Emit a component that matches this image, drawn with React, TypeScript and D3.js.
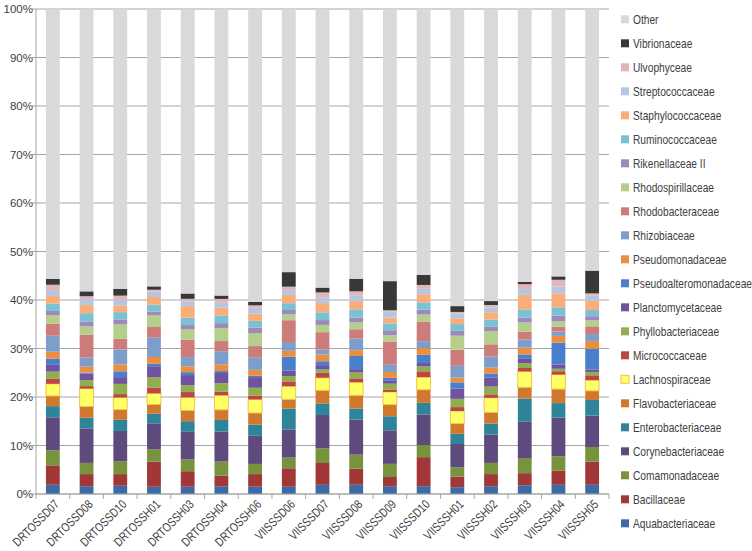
import React from "react";
import * as d3 from "d3";

const samples = ["DRTOSSD07","DRTOSSD08","DRTOSSD10","DRTOSSH01","DRTOSSH03","DRTOSSH04","DRTOSSH06","VIISSSD06","VIISSSD07","VIISSSD08","VIISSSD09","VIISSSD10","VIISSSH01","VIISSSH02","VIISSSH03","VIISSSH04","VIISSSH05"];

const Aquabacteriaceae = [1.9,1.6,1.7,1.5,1.5,1.6,1.5,1.5,1.9,1.9,1.6,1.6,1.4,1.6,1.8,1.9,1.9];
const Bacillaceae = [4.0,2.5,2.4,5.2,3.2,2.2,2.6,3.8,4.5,3.3,1.9,6.0,2.2,2.5,2.5,2.9,4.8];
const Comamonadaceae = [3.1,2.3,2.6,2.5,2.4,2.9,2.1,2.2,3.0,2.9,2.7,2.5,1.9,2.3,3.0,3.0,3.0];
const Corynebacteriaceae = [6.8,7.1,6.3,5.4,5.7,6.2,5.8,5.8,6.9,7.2,6.9,6.3,4.8,5.8,7.6,8.0,6.5];
const Enterobacteriaceae = [2.3,2.2,2.3,2.0,2.2,2.4,2.3,4.3,2.4,2.3,2.9,2.4,2.1,2.3,4.8,3.0,3.2];
const Flavobacteriaceae = [2.1,2.3,2.1,1.9,2.2,2.1,2.4,1.9,2.7,2.7,2.4,2.7,2.1,2.3,2.3,2.9,1.9];
const Lachnospiraceae = [2.5,3.7,2.5,2.3,2.7,3.0,2.8,2.7,2.6,2.7,2.6,2.6,2.6,3.0,3.3,3.0,2.2];
const Micrococcaceae = [1.1,0.5,0.7,1.2,1.1,0.7,0.8,1.0,1.0,0.8,0.5,1.2,0.8,0.7,0.7,0.7,1.0];
const Phyllobacteriaceae = [1.4,1.2,2.1,2.1,1.4,1.8,1.6,1.1,0.7,1.2,1.2,1.0,1.7,1.6,1.0,0.5,0.7];
const Planctomycetaceae = [1.4,1.4,1.4,2.3,2.1,2.1,2.2,1.1,0.9,0.7,0.7,0.7,2.1,1.9,1.0,0.9,0.5];
const Pseudoalteromonadaceae = [1.3,0.2,1.2,0.5,0.6,0.4,0.3,2.9,0.8,2.7,0.5,1.7,1.3,0.8,0.8,4.5,4.3];
const Pseudomonadaceae = [1.4,1.2,1.4,1.4,1.2,1.4,1.2,1.2,1.4,1.2,1.2,1.4,1.0,1.2,1.4,1.4,1.6];
const Rhizobiaceae = [3.3,1.9,3.1,4.0,1.9,2.7,2.5,1.8,1.0,2.4,1.5,1.4,2.4,2.3,1.7,0.9,1.4];
const Rhodobacteraceae = [2.5,4.7,2.2,2.2,3.6,2.1,2.4,4.5,3.6,1.9,4.7,4.0,3.3,2.5,1.6,1.0,1.6];
const Rhodospirillaceae = [1.7,1.7,3.0,2.4,2.1,2.7,2.7,1.2,1.5,1.4,1.4,1.5,2.9,2.7,1.9,1.1,1.3];
const RikenellaceaeII = [0.9,1.0,1.0,0.8,0.9,1.0,1.1,0.9,1.0,1.0,1.0,1.0,1.0,0.9,1.0,1.2,0.8];
const Ruminococcaceae = [1.5,1.7,1.5,1.4,1.5,1.6,1.4,1.4,1.6,1.7,1.4,1.5,1.4,1.5,1.7,1.7,1.3];
const Staphylococcaceae = [1.6,1.7,1.4,1.6,2.4,1.6,1.5,1.7,1.9,1.7,1.2,1.7,1.2,1.5,3.0,2.9,1.9];
const Streptococcaceae = [1.2,1.2,1.2,1.1,1.0,1.0,1.2,1.0,1.2,1.2,1.2,1.1,1.0,1.0,1.2,1.4,1.1];
const Ulvophyceae = [1.1,0.6,0.8,0.4,0.5,0.8,0.5,0.7,1.0,0.8,0.3,0.8,0.3,0.5,1.0,1.4,0.4];
const Vibrionaceae = [1.2,1.0,1.4,0.7,1.1,0.7,0.7,3.0,1.0,2.6,6.0,2.1,1.2,0.8,0.5,0.7,4.7];
const Other = [55.6,58.1,57.7,57.3,58.6,59.2,60.4,54.2,57.5,55.5,56.0,54.8,61.2,60.1,56.3,55.3,54.0];

const taxa = ["Aquabacteriaceae","Bacillaceae","Comamonadaceae","Corynebacteriaceae","Enterobacteriaceae","Flavobacteriaceae","Lachnospiraceae","Micrococcaceae","Phyllobacteriaceae","Planctomycetaceae","Pseudoalteromonadaceae","Pseudomonadaceae","Rhizobiaceae","Rhodobacteraceae","Rhodospirillaceae","Rikenellaceae II","Ruminococcaceae","Staphylococcaceae","Streptococcaceae","Ulvophyceae","Vibrionaceae","Other"];

const seriesValues = [Aquabacteriaceae,Bacillaceae,Comamonadaceae,Corynebacteriaceae,Enterobacteriaceae,Flavobacteriaceae,Lachnospiraceae,Micrococcaceae,Phyllobacteriaceae,Planctomycetaceae,Pseudoalteromonadaceae,Pseudomonadaceae,Rhizobiaceae,Rhodobacteraceae,Rhodospirillaceae,RikenellaceaeII,Ruminococcaceae,Staphylococcaceae,Streptococcaceae,Ulvophyceae,Vibrionaceae,Other];

const colors = ["#3C6AA6","#A23737","#77933C","#5F4A7E","#2E8599","#D0782E","#FFFF66","#BC4646","#8FAF4F","#6F539E","#4A7FCC","#EB8E3F","#7D9DCB","#CE7B7B","#B5CE8C","#9C8BBA","#7CC0D4","#F9AD78","#B6C6E2","#E2B5B7","#383838","#D9D9D9"];

const yTicks = [0,0.1,0.2,0.3,0.4,0.5,0.6,0.7,0.8,0.9,1];

export default function App() {
  const W = 752, H = 551;
  const left = 36, right = 609, top = 9, bottom = 494;
  const table = samples.map((s, i) => {
    const row: any = { sample: s };
    taxa.forEach((t, k) => { row[t] = seriesValues[k][i]; });
    return row;
  });
  const stack = d3.stack<any>().keys(taxa).offset(d3.stackOffsetExpand);
  const series = stack(table);
  const xb = d3.scaleBand<string>().domain(samples).range([left, right]);
  const barW = xb.bandwidth() * 0.41;
  const cxOf = (s: string) => (xb(s) as number) + xb.bandwidth() / 2;
  const y = d3.scaleLinear().domain([0, 1]).range([bottom, top]);
  const color = d3.scaleOrdinal<string, string>().domain(taxa).range(colors);
  const fmt = d3.format(".0%");
  const legendOrder = taxa.slice().reverse();
  return (
    <svg width={W} height={H} style={{ position: "absolute", left: 0, top: 0, background: "#fff" }}
      fontFamily="'Liberation Sans', Arial, sans-serif">
      {yTicks.map(t => (
        <g key={t}>
          <line x1={left} x2={right} y1={y(t)} y2={y(t)} stroke="#A6A6A6" strokeWidth={1} />
          <line x1={left - 4} x2={left} y1={y(t)} y2={y(t)} stroke="#A6A6A6" />
          <text x={33} y={y(t)} dy="0.35em" textAnchor="end" fontSize={11.5} fill="#404040">{fmt(t)}</text>
        </g>
      ))}
      <line x1={left} x2={left} y1={top} y2={bottom} stroke="#A6A6A6" />
      {series.map((s) => (
        <g key={s.key} fill={color(s.key)}>
          {s.map((d, i) => (
            <rect key={i} x={cxOf(samples[i]) - barW / 2} width={barW} y={y(d[1])} height={Math.max(0, y(d[0]) - y(d[1]))}
              stroke={s.key === "Lachnospiraceae" ? "#F2C14E" : "none"} strokeWidth={s.key === "Lachnospiraceae" ? 1 : 0} />
          ))}
        </g>
      ))}
      <line x1={left} x2={right} y1={bottom} y2={bottom} stroke="#A6A6A6" />
      {samples.map((s) => (
        <line key={s} x1={(xb(s) as number)} x2={(xb(s) as number)} y1={bottom} y2={bottom + 5} stroke="#A6A6A6" />
      ))}
      <line x1={right} x2={right} y1={bottom} y2={bottom + 5} stroke="#A6A6A6" />
      {samples.map(s => {
        const cx = cxOf(s);
        return (
          <text key={s} transform={`translate(${cx + 4},${502}) rotate(-45) scale(0.8,1)`} dy="0.35em" textAnchor="end"
            fontSize={12.5} fill="#404040">{s}</text>
        );
      })}
      {legendOrder.map((t, j) => {
        const ly = 19.3 + j * 24;
        return (
          <g key={t}>
            <rect x={621} y={ly - 4} width={8} height={8} fill={color(t)}
              stroke={t === "Lachnospiraceae" ? "#F2C14E" : "none"} />
            <text transform={`translate(633,${ly}) scale(0.85,1)`} dy="0.35em" fontSize={12} fill="#404040">{t}</text>
          </g>
        );
      })}
    </svg>
  );
}
